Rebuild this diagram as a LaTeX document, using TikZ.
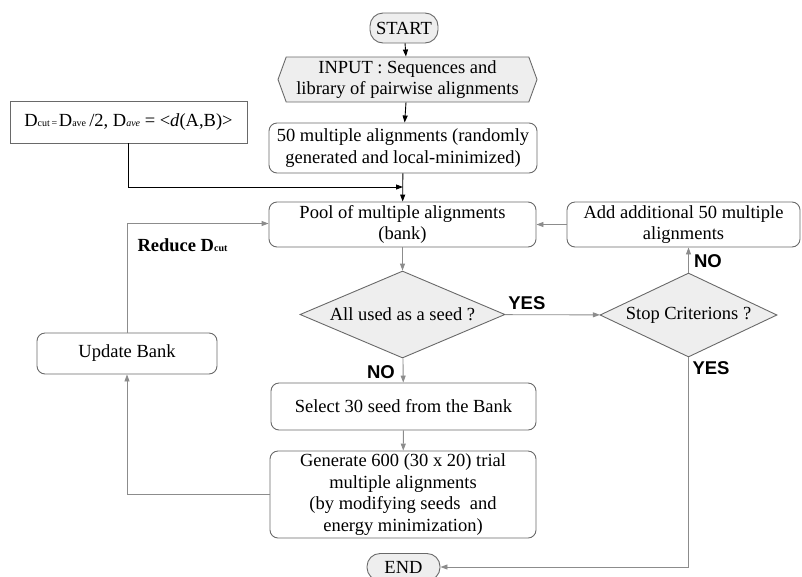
\documentclass[tikz,border=0pt]{standalone}
\usepackage{fontspec}
\setmainfont{Liberation Serif}
\newfontfamily\yesnofont{Liberation Sans}
\usepackage{xcolor}
\usepackage{tikz}
\usetikzlibrary{shapes.geometric, shapes.symbols, arrows.meta, positioning, calc}
\definecolor{edgegray}{RGB}{105, 105, 105}
\definecolor{flowgray}{RGB}{140, 140, 140}
\definecolor{shadegray}{RGB}{238, 238, 238}

\tikzset{
    base/.style={draw=edgegray, line width=0.9pt, inner sep=0pt, align=center,
        font=\fontsize{18.5}{21.7}\selectfont},
    terminal/.style={base, rounded corners=13pt, fill=shadegray},
    process/.style={base, rounded corners=8pt},
    decision/.style={base, diamond, fill=shadegray},
    ioshape/.style={base, signal, signal to=west and east, signal pointer angle=140, fill=shadegray},
    plainbox/.style={base},
    darkflow/.style={line width=0.9pt, black, -{Triangle[length=7pt,width=5pt]}},
    greyflow/.style={line width=0.9pt, flowgray, -{Triangle[length=7pt,width=5pt]}},
    answer/.style={text=black, font=\yesnofont\bfseries\fontsize{18.5}{20}\selectfont}
}
\newcommand{\lowtext}[1]{{\fontsize{10}{12}\selectfont #1}}

\begin{document}
\begin{tikzpicture}[x=1pt, y=-1pt]
    \useasboundingbox (0,0) rectangle (802,576);

    % main column
    \node[terminal, minimum width=68pt, minimum height=30pt] (start) at (404,28) {START};
    \node[ioshape, minimum width=259pt, minimum height=45pt] (input) at (407.5,79.5)
        {INPUT : Sequences and\\library of pairwise alignments};
    \node[process, minimum width=268pt, minimum height=50pt] (multi) at (403,148)
        {50 multiple alignments (randomly\\generated and local-minimized)};
    \node[process, minimum width=267pt, minimum height=45pt] (pool) at (402.5,224.5)
        {Pool of multiple alignments\\(bank)};
    \node[decision, aspect=2.36, minimum width=205pt, minimum height=87pt] (used) at (402.5,314.5)
        {All used as a seed ?};
    \node[process, minimum width=265pt, minimum height=47pt] (select) at (403.5,406.5)
        {Select 30 seed from the Bank};
    \node[process, minimum width=266pt, minimum height=87pt] (gen) at (403,494.5)
        {Generate 600 (30 x 20) trial\\multiple alignments\\(by modifying seeds\ \ and\\energy minimization)};
    \node[terminal, minimum width=73pt, minimum height=27pt] (end) at (403.5,567) {END};

    % side boxes
    \node[plainbox, minimum width=237pt, minimum height=42pt] (dcut) at (128.5,122)
        {D\lowtext{cut\,=\,}D\lowtext{ave}\,/2, D\lowtext{\itshape ave} = <\textit{d}(A,B)>};
    \node[process, minimum width=180pt, minimum height=41pt] (update) at (127,353.5) {Update Bank};
    \node[process, minimum width=233pt, minimum height=45pt] (add) at (683.5,224.5)
        {Add additional 50 multiple\\alignments};
    \node[decision, aspect=2.1, minimum width=177pt, minimum height=84pt] (stop) at (688.5,315)
        {Stop Criterions ?};

    \coordinate (join) at (403,187);

    % top arrows
    \draw[darkflow] (start) -- (input);
    \draw[darkflow] (input) -- (multi);
    \draw[darkflow] (multi) -- (pool);
    \draw[darkflow] (dcut.south) |- (join);

    % loop arrows
    \draw[greyflow] (pool) -- (used);
    \draw[greyflow] (used) -- node[answer, above=1pt, pos=0.23] {YES} (stop);
    \draw[greyflow] (used) -- (select);
    \draw[greyflow] (select) -- (gen);
    \draw[greyflow] (gen.west) -| (update.south);
    \draw[greyflow] (update.north) |- ([yshift=1pt]pool.west);
    \draw[greyflow] (add) -- (pool);
    \draw[greyflow] (stop.north) -- (stop.north |- add.south);
    \draw[greyflow] (stop.south) |- (end.east);

    % answers
    \node[answer] (nofirst) at (381,372) {NO};
    \node[answer] (nosecond) at (708,261) {NO};
    \node[answer] (yessecond) at (711,368) {YES};
    \node[font=\bfseries\fontsize{18.5}{20}\selectfont, anchor=west] (reduce) at (134,245)
        {Reduce D\lowtext{cut}};
\end{tikzpicture}
\end{document}
